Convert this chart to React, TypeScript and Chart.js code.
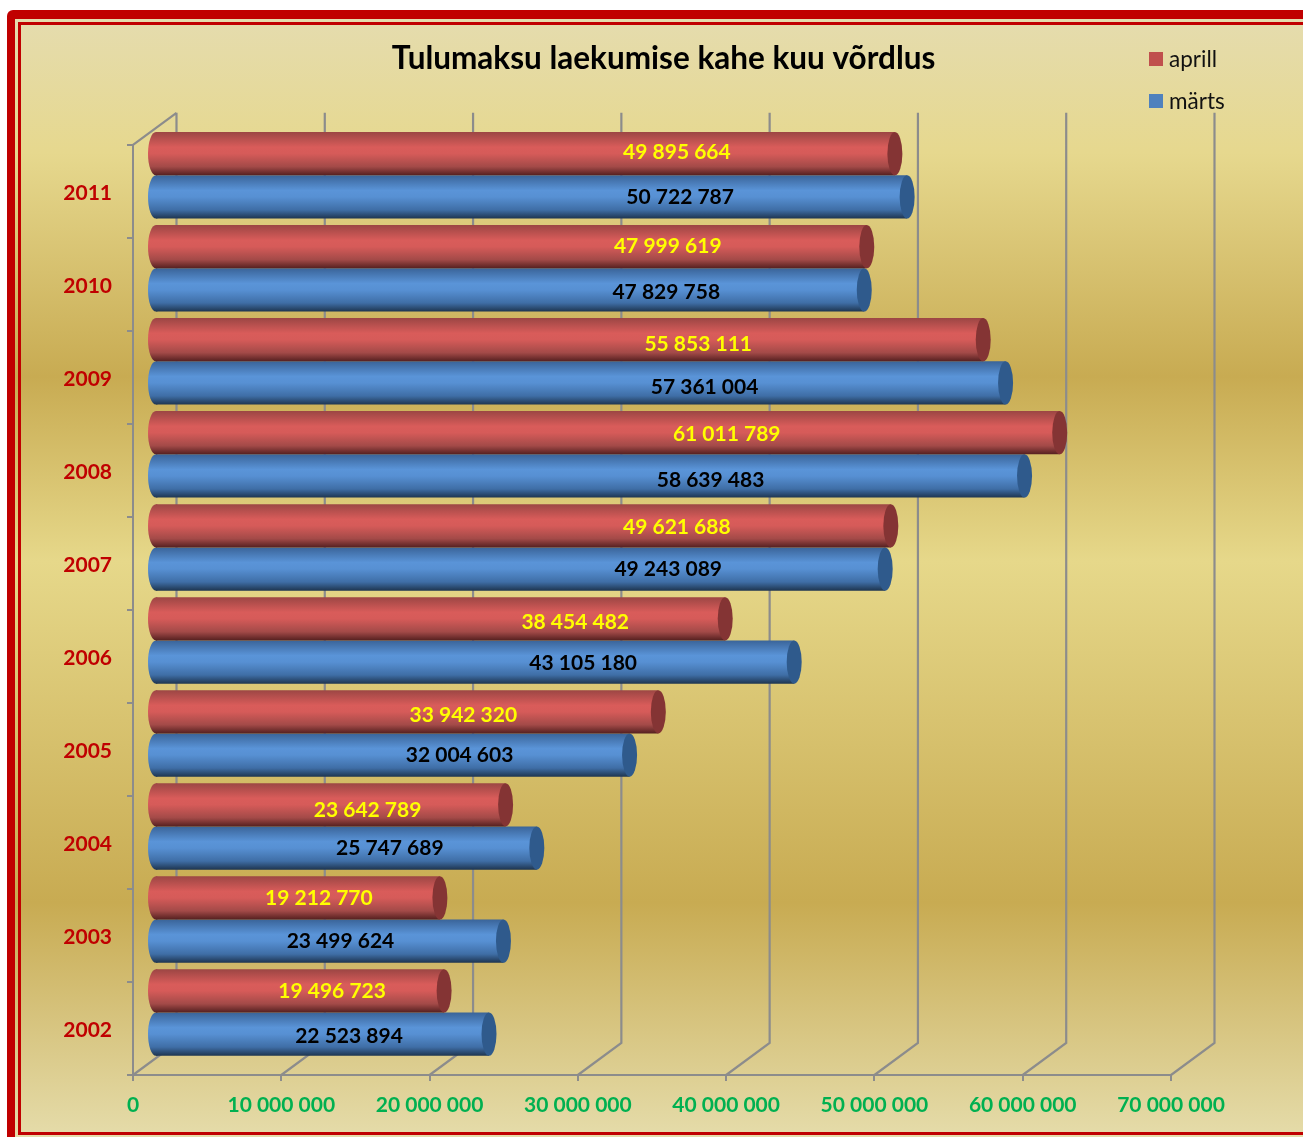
import React, { useEffect, useRef } from "react";
import { Chart, registerables } from "chart.js";

Chart.register(...registerables);

const years = ["2011", "2010", "2009", "2008", "2007", "2006", "2005", "2004", "2003", "2002"];
const aprill = [49895664, 47999619, 55853111, 61011789, 49621688, 38454482, 33942320, 23642789, 19212770, 19496723];
const marts = [50722787, 47829758, 57361004, 58639483, 49243089, 43105180, 32004603, 25747689, 23499624, 22523894];
const titleText = "Tulumaksu laekumise kahe kuu võrdlus";

// Hand placement of the value labels relative to each bar's end, as in the reference.
const aprillLabelDx = [-218, -199, -285, -333, -214, -150, -195, -138, -121, -112];
const aprillLabelDy = [-2, -1, 4, 0, 0, 2, 2, 4, -1, -1];
const martsLabelDx = [-227, -198, -301, -314, -217, -211, -170, -147, -163, -140];
const martsLabelDy = [-1, 1, 3, 3, -1, 0, -1, -1, -1, 1];

const FONT = "Lato, Carlito, Calibri, sans-serif";
const GREY = "#8c8c8c";
const DEPTH_X = 43.5;
const DEPTH_Y = 32;
const SHIFT_X = 22;
const SHIFT_Y = -16;
const CAP_RX = 7.5;
const CATEGORY_PCT = 0.93;

const palette = [
  { legend: "#c0504d", cap: "#843434", stops: ["#9c4644", "#d95c5a", "#d65b59", "#a34a48", "#552020"], label: "#ffff00" },
  { legend: "#4f81bd", cap: "#2f5a8c", stops: ["#3a6499", "#5a94d8", "#5790d3", "#3f6ea6", "#1e3550"], label: "#000000" },
];

function barGradient(chart: any, datasetIndex: number, dataIndex: number) {
  const yScale = chart.scales.y;
  const band = (yScale.getPixelForValue(1) - yScale.getPixelForValue(0));
  const h = (band * CATEGORY_PCT) / 2;
  const c = yScale.getPixelForValue(dataIndex) + (datasetIndex === 0 ? -h / 2 : h / 2);
  const g = chart.ctx.createLinearGradient(0, c - h / 2, 0, c + h / 2);
  const s = palette[datasetIndex].stops;
  g.addColorStop(0, s[0]);
  g.addColorStop(0.35, s[1]);
  g.addColorStop(0.5, s[2]);
  g.addColorStop(0.8, s[3]);
  g.addColorStop(1, s[4]);
  return g;
}

const scene = {
  id: "scene",
  afterLayout(chart: any) {
    if (chart.titleBlock) {
      chart.titleBlock.left = 24;
      chart.titleBlock.right = 1303;
    }
  },
  beforeDraw(chart: any) {
    const { ctx, width, height } = chart;
    ctx.save();
    ctx.fillStyle = "#ffffff";
    ctx.fillRect(0, 0, width, height);
    ctx.beginPath();
    ctx.roundRect(7, 10, width + 20, height + 20, 6);
    ctx.fillStyle = "#c00000";
    ctx.fill();
    const g = ctx.createLinearGradient(0, 19, 0, height);
    g.addColorStop(0, "#e5dcae");
    g.addColorStop(0.12, "#e6d88e");
    g.addColorStop(0.32, "#c8ab52");
    g.addColorStop(0.485, "#e6d88a");
    g.addColorStop(0.79, "#c8ab52");
    g.addColorStop(1, "#e5dcaa");
    ctx.fillStyle = g;
    ctx.fillRect(15, 19, width, height);
    ctx.fillStyle = "#c00000";
    ctx.fillRect(18, 22, width, 3);
    ctx.fillRect(18, 22, 3, 1113);
    ctx.fillRect(18, 1132, width, 3);
    ctx.restore();
  },
  beforeDatasetsDraw(chart: any) {
    const { ctx, scales, chartArea } = chart;
    ctx.save();
    ctx.strokeStyle = GREY;
    ctx.lineWidth = 2.2;
    const backTop = chartArea.top - DEPTH_Y;
    const backBottom = chartArea.bottom - DEPTH_Y;
    ctx.beginPath();
    ctx.moveTo(chartArea.left, chartArea.top);
    ctx.lineTo(chartArea.left + DEPTH_X, backTop);
    scales.x.ticks.forEach((t: any) => {
      const x = scales.x.getPixelForValue(t.value);
      ctx.moveTo(x, chartArea.bottom);
      ctx.lineTo(x + DEPTH_X, backBottom);
      ctx.lineTo(x + DEPTH_X, backTop);
    });
    ctx.stroke();
    ctx.restore();
    ctx.save();
    ctx.translate(SHIFT_X, SHIFT_Y);
  },
  afterDatasetDraw(chart: any, args: any) {
    const { ctx } = chart;
    const i = args.index;
    args.meta.data.forEach((bar: any, j: number) => {
      const ry = bar.height / 2;
      ctx.save();
      ctx.fillStyle = barGradient(chart, i, j);
      ctx.beginPath();
      ctx.ellipse(bar.base, bar.y, CAP_RX + 0.5, ry, 0, 0, Math.PI * 2);
      ctx.fill();
      ctx.fillStyle = palette[i].cap;
      ctx.beginPath();
      ctx.ellipse(bar.x, bar.y, CAP_RX, ry, 0, 0, Math.PI * 2);
      ctx.fill();
      ctx.restore();
    });
  },
  afterDatasetsDraw(chart: any) {
    chart.ctx.restore();
  },
  afterDraw(chart: any) {
    const { ctx } = chart;
    ctx.save();
    ctx.font = `bold 21px ${FONT}`;
    ctx.textAlign = "center";
    ctx.textBaseline = "middle";
    const dxs = [aprillLabelDx, martsLabelDx];
    const dys = [aprillLabelDy, martsLabelDy];
    chart.data.datasets.forEach((ds: any, i: number) => {
      ctx.fillStyle = palette[i].label;
      chart.getDatasetMeta(i).data.forEach((bar: any, j: number) => {
        const text = formatNumber(ds.data[j]);
        ctx.fillText(text, bar.x + SHIFT_X + dxs[i][j], bar.y + SHIFT_Y + dys[i][j] + 1);
      });
    });
    ctx.textAlign = "left";
    ctx.font = `22.5px ${FONT}`;
    chart.data.datasets.forEach((ds: any, i: number) => {
      const y = 59 + i * 42;
      ctx.fillStyle = palette[i].legend;
      ctx.fillRect(1149, y - 7, 14, 14);
      ctx.fillStyle = "#111111";
      ctx.fillText(ds.label, 1169, y + 1);
    });
    ctx.restore();
  },
};

function formatNumber(v: number) {
  return String(v).replace(/\B(?=(\d{3})+$)/g, " ");
}

export default function App() {
  const ref = useRef<HTMLCanvasElement>(null);
  useEffect(() => {
    const chart = new Chart(ref.current as HTMLCanvasElement, {
      type: "bar",
      data: {
        labels: years,
        datasets: [
          { label: "aprill", data: aprill, clip: false, backgroundColor: (c: any) => (c.chart.chartArea ? barGradient(c.chart, 0, c.dataIndex) : palette[0].legend) },
          { label: "märts", data: marts, clip: false, backgroundColor: (c: any) => (c.chart.chartArea ? barGradient(c.chart, 1, c.dataIndex) : palette[1].legend) },
        ] as any,
      },
      options: {
        indexAxis: "y",
        responsive: false,
        animation: false,
        datasets: { bar: { categoryPercentage: CATEGORY_PCT, barPercentage: 1 } },
        layout: { padding: { left: 0, right: 132, top: 0, bottom: 0 } },
        plugins: {
          legend: { display: false },
          tooltip: { enabled: false },
          title: {
            display: true,
            text: titleText,
            color: "#000000",
            font: { family: FONT, size: 31.5, weight: "bold", lineHeight: 1.2 },
            padding: { top: 40, bottom: 67 },
          },
        },
        scales: {
          x: {
            min: 0,
            max: 70000000,
            afterFit: (s: any) => { s.height = 62; },
            grid: { drawOnChartArea: false, color: GREY, lineWidth: 2, tickLength: 6 },
            border: { color: GREY, width: 2 },
            ticks: {
              stepSize: 10000000,
              autoSkip: false,
              maxRotation: 0,
              padding: 12,
              color: "#00b050",
              font: { family: FONT, size: 21, weight: "bold" },
              callback: (v: any) => formatNumber(Number(v)),
            },
          },
          y: {
            afterFit: (s: any) => { s.width = 133; },
            grid: { drawOnChartArea: false, color: GREY, lineWidth: 2, tickLength: 6 },
            border: { color: GREY, width: 2 },
            ticks: {
              padding: 15,
              autoSkip: false,
              labelOffset: 2,
              color: "#c00000",
              font: { family: FONT, size: 21, weight: "bold" },
            },
          },
        },
      } as any,
      plugins: [scene],
    });
    return () => chart.destroy();
  }, []);
  return (
    <div style={{ position: "fixed", left: 0, top: 0 }}>
      <canvas ref={ref} width={1303} height={1137} style={{ display: "block" }} />
    </div>
  );
}
